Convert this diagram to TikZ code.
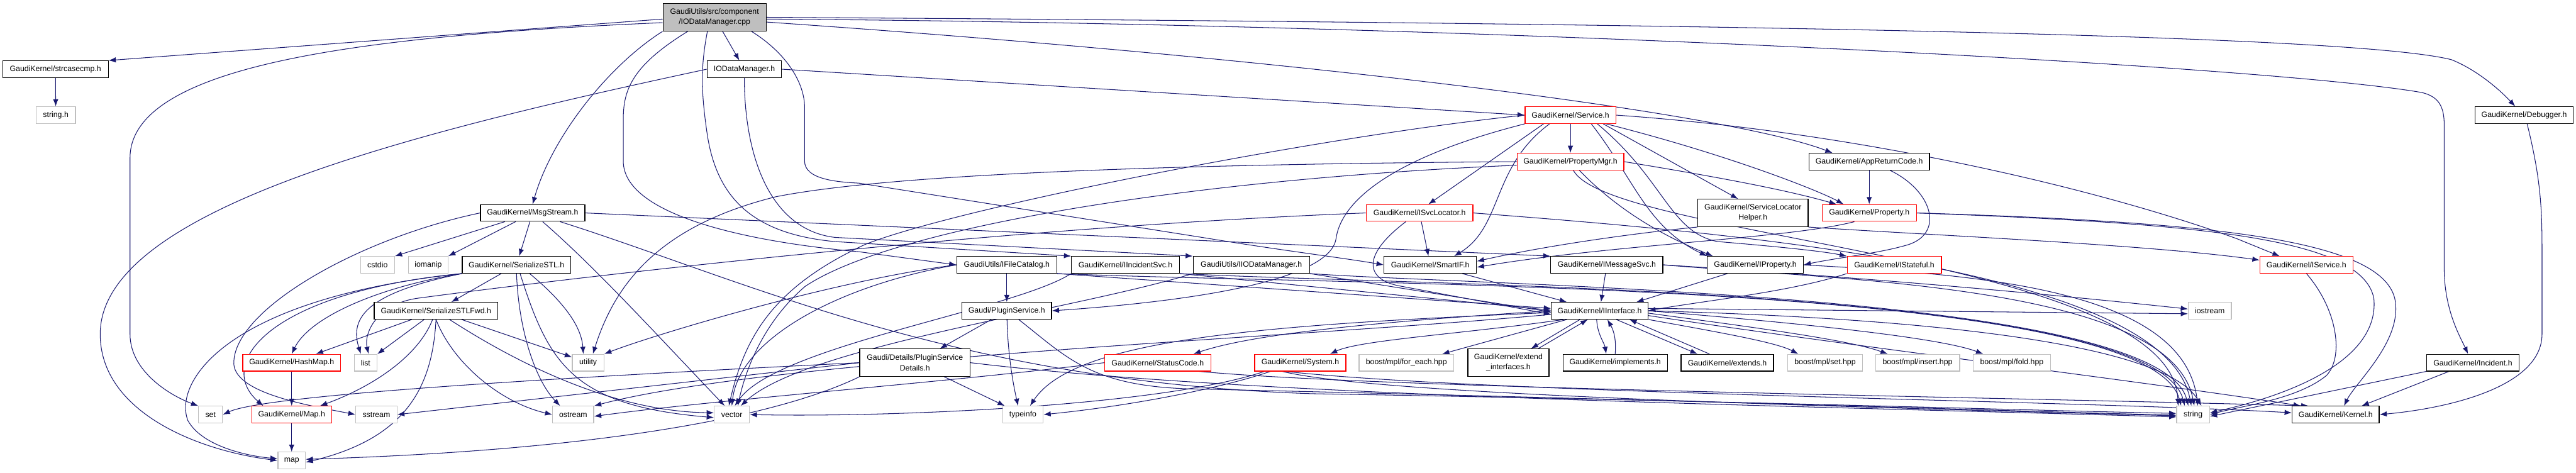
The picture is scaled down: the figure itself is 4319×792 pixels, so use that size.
\documentclass[tikz,border=0pt]{standalone}
\usepackage{fontspec}
\setmainfont{Liberation Sans}
\usetikzlibrary{arrows.meta}
\definecolor{edgec}{HTML}{191970}
\definecolor{extc}{HTML}{BFBFBF}
\definecolor{rootc}{HTML}{BFBFBF}
\newcommand{\nfs}{\fontsize{13}{17}\selectfont}
\pgfdeclarelayer{bgfill}
\pgfdeclarelayer{edges}
\pgfsetlayers{bgfill,edges,main}
\begin{document}
\begin{tikzpicture}[x=1pt,y=-1pt,
 nb/.style={draw=black, fill=white, line width=1.3pt, minimum height=28pt, inner sep=0pt, font=\nfs, align=center},
 nr/.style={nb, draw=red},
 ng/.style={nb, draw=extc},
 nroot/.style={nb, fill=rootc},
 tall/.style={minimum height=46pt},
 e/.style={draw=edgec, line width=1.1pt, -{Latex[length=12pt,width=9pt]}}
]
\useasboundingbox (0,0) rectangle (4319,792);
\begin{pgfonlayer}{bgfill}
\fill[white] (0,0) rectangle (4319,792);
\end{pgfonlayer}

% ---------------- nodes
\node[nroot, tall, minimum width=173pt] (root) at (1198,29) {GaudiUtils/src/component\\/IODataManager.cpp};
\node[nb, minimum width=177pt] (strc) at (93,116) {GaudiKernel/strcasecmp.h};
\node[ng, minimum width=66pt] (stringh) at (93.5,193) {string.h};
\node[nb, minimum width=125pt] (iodmh) at (1248,116) {IODataManager.h};
\node[nb, minimum width=175pt] (msgs) at (893,357) {GaudiKernel/MsgStream.h};
\node[nr, minimum width=152pt] (svc) at (2633,193) {GaudiKernel/Service.h};
\node[nb, minimum width=165pt] (dbg) at (4232,193) {GaudiKernel/Debugger.h};
\node[nr, minimum width=179pt] (pmgr) at (2633,271) {GaudiKernel/PropertyMgr.h};
\node[nb, minimum width=202pt] (arc) at (3134,271) {GaudiKernel/AppReturnCode.h};
\node[nr, minimum width=179pt] (isvcl) at (2380,357) {GaudiKernel/ISvcLocator.h};
\node[nb, tall, minimum width=185pt] (slh) at (2939,357) {GaudiKernel/ServiceLocator\\Helper.h};
\node[nr, minimum width=158pt] (prop) at (3134,357) {GaudiKernel/Property.h};
\node[ng, minimum width=57pt] (cstdio) at (633,444) {cstdio};
\node[ng, minimum width=66pt] (iomanip) at (718,444) {iomanip};
\node[nb, minimum width=182pt] (sstl) at (866,444) {GaudiKernel/SerializeSTL.h};
\node[nb, minimum width=168pt] (ifc) at (1688,444) {GaudiUtils/IFileCatalog.h};
\node[nb, minimum width=181pt] (iinc) at (1887,444) {GaudiKernel/IIncidentSvc.h};
\node[nb, minimum width=195pt] (iiodm) at (2098,444) {GaudiUtils/IIODataManager.h};
\node[nb, minimum width=155pt] (smartif) at (2398,444) {GaudiKernel/SmartIF.h};
\node[nb, minimum width=188pt] (imsg) at (2694,444) {GaudiKernel/IMessageSvc.h};
\node[nb, minimum width=161pt] (iprop) at (2943,444) {GaudiKernel/IProperty.h};
\node[nr, minimum width=158pt] (istate) at (3176,444) {GaudiKernel/IStateful.h};
\node[nr, minimum width=156pt] (isvc) at (3867,444) {GaudiKernel/IService.h};
\node[nb, minimum width=207pt] (sfwd) at (731,521) {GaudiKernel/SerializeSTLFwd.h};
\node[nb, minimum width=150pt] (plug) at (1688,521) {Gaudi/PluginService.h};
\node[nb, minimum width=162pt] (iint) at (2682,521) {GaudiKernel/IInterface.h};
\node[ng, minimum width=72pt] (iostream) at (3705,521) {iostream};
\node[nr, minimum width=164pt] (hmap) at (489,608) {GaudiKernel/HashMap.h};
\node[ng, minimum width=38pt] (list) at (613,608) {list};
\node[ng, minimum width=53pt] (utility) at (986,608) {utility};
\node[nb, tall, minimum width=185pt] (plugd) at (1534,608) {Gaudi/Details/PluginService\\Details.h};
\node[nr, minimum width=178pt] (stc) at (1941,608) {GaudiKernel/StatusCode.h};
\node[nr, minimum width=153pt] (sys) at (2180,608) {GaudiKernel/System.h};
\node[ng, minimum width=159pt] (foreach) at (2358,608) {boost/mpl/for\_each.hpp};
\node[nb, tall, minimum width=136pt] (extif) at (2529,608) {GaudiKernel/extend\\\_interfaces.h};
\node[nb, minimum width=175pt] (impl) at (2708,608) {GaudiKernel/implements.h};
\node[nb, minimum width=155pt] (extends) at (2896,608) {GaudiKernel/extends.h};
\node[ng, minimum width=126pt] (mplset) at (3060,608) {boost/mpl/set.hpp};
\node[ng, minimum width=141pt] (mplins) at (3215,608) {boost/mpl/insert.hpp};
\node[ng, minimum width=130pt] (mplfold) at (3373,608) {boost/mpl/fold.hpp};
\node[nb, minimum width=155pt] (incident) at (4146,608) {GaudiKernel/Incident.h};
\node[ng, minimum width=40pt] (setx) at (353,695) {set};
\node[nr, minimum width=134pt] (maph) at (489,695) {GaudiKernel/Map.h};
\node[ng, minimum width=69pt] (sstream) at (631,695) {sstream};
\node[ng, minimum width=69pt] (ostream) at (961,695) {ostream};
\node[ng, minimum width=59pt] (vector) at (1227,695) {vector};
\node[ng, minimum width=68pt] (typeinfo) at (1715,695) {typeinfo};
\node[ng, minimum width=55pt] (string) at (3677,695) {string};
\node[nb, minimum width=146pt] (kernel) at (3916,695) {GaudiKernel/Kernel.h};
\node[ng, minimum width=46pt] (map) at (489,772) {map};

% ---------------- edges
\begin{pgfonlayer}{edges}
% root
\draw[e] ([yshift=-3pt]root.west) -- (strc.north east);
\draw[e] ([yshift=-9pt]root.west) .. controls (600,60) and (218,110) .. (218,265) -- (218,560) .. controls (218,625) and (290,665) .. (setx.north west);
\draw[e] (root) -- (iodmh);
\draw[e] (root.south west) .. controls (1020,110) and (925,230) .. (msgs.north);
\draw[e] ([xshift=-45pt]root.south) .. controls (1060,110) and (1045,150) .. (1045,200) -- (1045,270) .. controls (1045,360) and (1250,405) .. (1440,422) -- (ifc.west);
\draw[e] ([xshift=-12pt]root.south) .. controls (1175,110) and (1175,150) .. (1185,220) .. controls (1200,330) and (1260,392) .. (1400,405) -- (iinc.north west);
\draw[e] ([xshift=62pt]root.south) .. controls (1320,90) and (1349,140) .. (1349,180) -- (1349,270) .. controls (1349,300) and (1400,305) .. (1440,307) -- (2028,400) .. controls (2150,420) and (2250,432) .. (smartif.west);
\draw[e] ([yshift=-8pt]root.east) .. controls (2200,100) and (2900,190) .. ([xshift=40pt]arc.north west);
\draw[e] (root.east) .. controls (3000,40) and (3950,60) .. (4110,100) .. controls (4160,120) and (4200,160) .. ([xshift=-15pt]dbg.north);
\draw[e] ([yshift=-3pt]root.east) .. controls (2500,40) and (3800,110) .. (4060,155) .. controls (4090,162) and (4098,180) .. (4098,210) -- (4098,450) .. controls (4098,520) and (4125,565) .. ([xshift=-8pt]incident.north);
% IODataManager.h
\draw[e] (iodmh.east) -- (svc.west);
\draw[e] (iodmh.west) .. controls (700,220) and (168,350) .. (168,560) .. controls (168,690) and (330,755) .. (map.west);
\draw[e] (iodmh.south) .. controls (1248,260) and (1290,385) .. (1400,398) -- (iiodm.north west);
% MsgStream.h
\draw[e] (msgs) -- (cstdio.north east);
\draw[e] (msgs) -- (iomanip.north east);
\draw[e] (msgs) -- (sstl);
\draw[e] (msgs) .. controls (1000,450) and (1100,560) .. ([xshift=-12pt]vector.north);
\draw[e] (msgs.west) .. controls (600,400) and (390,520) .. (392,610) .. controls (395,660) and (520,680) .. (sstream.west);
\draw[e] (msgs) .. controls (1250,470) and (1600,640) .. (2200,660) .. controls (2900,672) and (3400,688) .. ([yshift=2pt]string.west);
\draw[e] (msgs.east) -- (imsg.north west);
% SerializeSTL.h
\draw[e] (sstl) -- (sfwd);
\draw[e] (sstl.south west) .. controls (640,480) and (520,530) .. (hmap.north);
\draw[e] (sstl.south west) .. controls (620,490) and (585,530) .. ([xshift=-8pt]list.north);
\draw[e] (sstl.south west) .. controls (450,490) and (360,610) .. ([xshift=20pt]maph.north west);
\draw[e] (sstl.south west) .. controls (380,500) and (290,640) .. (315,705) .. controls (340,750) and (420,765) .. ([yshift=3pt]map.west);
\draw[e] (sstl.south) .. controls (870,560) and (900,640) .. ([xshift=-22pt]ostream.north);
\draw[e] ([xshift=6pt]sstl.south) .. controls (920,610) and (960,680) .. ([yshift=-5pt]vector.west);
\draw[e] ([xshift=22pt]sstl.south) .. controls (950,510) and (975,550) .. ([xshift=-8pt]utility.north);
% SerializeSTLFwd.h
\draw[e] (sfwd) -- (hmap);
\draw[e] (sfwd) -- (list);
\draw[e] (sfwd) .. controls (700,600) and (620,650) .. ([xshift=-20pt]maph.north east);
\draw[e] (sfwd.south) .. controls (725,650) and (680,735) .. ([yshift=-3pt]map.east);
\draw[e] (sfwd.south) .. controls (760,610) and (840,675) .. (ostream.west);
\draw[e] (sfwd) .. controls (900,630) and (1050,690) .. ([yshift=3pt]vector.west);
\draw[e] (sfwd) -- (utility);
\draw[e] (hmap) -- (maph);
\draw[e] (maph) -- (map);
% PluginServiceDetails.h
\draw[e] (plugd.west) .. controls (1000,630) and (450,660) .. (setx.east);
\draw[e] (plugd.west) -- (sstream.east);
\draw[e] (plugd.south west) .. controls (1300,700) and (1000,755) .. ([yshift=2pt]map.east);
\draw[e] (plugd) -- (typeinfo);
\draw[e] (plugd.east) .. controls (2100,665) and (3000,680) .. ([yshift=-4pt]string.west);
% PluginService.h
\draw[e] (plug) -- (plugd);
\draw[e] (plug) .. controls (1690,600) and (1700,650) .. ([xshift=-8pt]typeinfo.north);
\draw[e] ([xshift=20pt]plug.south) .. controls (1790,600) and (1830,648) .. (2000,652) .. controls (2800,670) and (3400,690) .. ([yshift=-1pt]string.west);
% IFileCatalog.h
\draw[e] (ifc) -- (plug);
\draw[e] (ifc.west) .. controls (1400,470) and (1100,560) .. (utility.north east);
\draw[e] (ifc.west) .. controls (1400,480) and (1240,570) .. (vector.north);
\draw[e] (ifc.south east) -- ([yshift=4pt]iint.west);
\draw[e] (ifc.south east) .. controls (2300,480) and (3600,470) .. ([xshift=-20pt]string.north);
% IIncidentSvc.h
\draw[e] (iinc.south east) -- ([yshift=1pt]iint.west);
\draw[e] (iinc.south west) .. controls (1700,520) and (1300,580) .. ([xshift=5pt]vector.north);
\draw[e] (iinc.south east) .. controls (2400,480) and (3610,480) .. ([xshift=-14pt]string.north);
% IIODataManager.h
\draw[e] (iiodm.south east) -- ([yshift=-2pt]iint.west);
\draw[e] (iiodm.south west) .. controls (1800,520) and (1350,580) .. ([xshift=15pt]vector.north);
\draw[e] (iiodm.south east) .. controls (2500,480) and (3620,490) .. ([xshift=-8pt]string.north);
% SmartIF, IMessageSvc, IProperty, IStateful
\draw[e] (smartif) -- ([xshift=-55pt]iint.north);
\draw[e] (imsg) -- (iint);
\draw[e] (imsg.east) .. controls (3200,470) and (3500,500) .. ([yshift=3pt]iostream.west);
\draw[e] (imsg.east) .. controls (3100,470) and (3640,480) .. ([xshift=2pt]string.north);
\draw[e] (iprop) -- ([xshift=-20pt]iint.north east);
\draw[e] (iprop.east) .. controls (3300,460) and (3660,480) .. ([xshift=8pt]string.north);
\draw[e] (istate.south west) .. controls (3000,490) and (2850,505) .. (iint.east);
% ISvcLocator.h
\draw[e] (isvcl.west) .. controls (1700,380) and (1000,460) .. (700,500) .. controls (630,510) and (610,560) .. ([xshift=5pt]list.north);
\draw[e] (isvcl) -- (smartif);
\draw[e] ([xshift=-23pt]isvcl.south) .. controls (2280,430) and (2290,470) .. (2350,480) -- ([yshift=-6pt]iint.west);
\draw[e] (isvcl.east) .. controls (2900,390) and (3630,450) .. ([xshift=-3pt]string.north);
% Service.h
\draw[e] (svc) -- (pmgr);
\draw[e] ([xshift=-45pt]svc.south) -- ([xshift=15pt]isvcl.north);
\draw[e] ([xshift=-35pt]svc.south) .. controls (2500,280) and (2520,380) .. ([xshift=40pt]smartif.north);
\draw[e] (svc.south west) .. controls (2350,260) and (2250,330) .. (2240,400) .. controls (2230,470) and (2000,505) .. (plug.east);
\draw[e] (svc.west) .. controls (2200,230) and (1600,350) .. (1450,410) .. controls (1300,480) and (1250,560) .. ([xshift=-5pt]vector.north);
\draw[e] ([xshift=35pt]svc.south) .. controls (2740,300) and (2760,380) .. (iprop.north west);
\draw[e] ([xshift=45pt]svc.south) .. controls (2790,300) and (2800,390) .. (2880,405) .. controls (3000,415) and (3060,422) .. (istate.north west);
\draw[e] ([xshift=55pt]svc.south) -- ([xshift=-25pt]slh.north);
\draw[e] ([xshift=60pt]svc.south) .. controls (2900,260) and (3050,320) .. ([xshift=-43pt]prop.north);
\draw[e] (svc.east) .. controls (3100,220) and (3500,310) .. (3750,400) -- ([xshift=-45pt]isvc.north);
% PropertyMgr.h
\draw[e] (pmgr.east) .. controls (2900,300) and (3000,320) .. ([xshift=-55pt]prop.north);
\draw[e] ([xshift=15pt]pmgr.south) .. controls (2720,360) and (2800,400) .. ([xshift=10pt]iprop.north west);
\draw[e] (pmgr.west) .. controls (2000,275) and (1500,290) .. (1300,330) .. controls (1100,380) and (1030,480) .. ([xshift=8pt]utility.north);
\draw[e] ([yshift=-6pt]pmgr.west) .. controls (2000,300) and (1500,380) .. (1350,480) .. controls (1280,540) and (1250,620) .. ([xshift=10pt]vector.north);
\draw[e] ([xshift=5pt]pmgr.south) .. controls (2700,400) and (3640,430) .. ([xshift=-25pt]string.north);
% AppReturnCode.h
\draw[e] (arc) -- (prop);
\draw[e] ([xshift=35pt]arc.south) .. controls (3240,320) and (3260,390) .. (3200,410) .. controls (3150,425) and (3080,432) .. (iprop.east);
% ServiceLocatorHelper.h
\draw[e] (slh.south west) .. controls (2750,390) and (2600,410) .. ([yshift=6pt]smartif.east);
\draw[e] (slh.south east) .. controls (3250,395) and (3600,410) .. ([yshift=8pt]isvc.west);
% Property.h
\draw[e] ([xshift=-25pt]prop.south) .. controls (3000,400) and (2700,410) .. ([yshift=-4pt]smartif.east);
\draw[e] (prop.east) .. controls (3700,375) and (3960,400) .. (3980,500) .. controls (3990,600) and (3850,660) .. ([yshift=3pt]string.east);
\draw[e] (prop.east) .. controls (3700,372) and (3990,400) .. (4015,500) .. controls (4030,570) and (3950,640) .. ([xshift=14pt]kernel.north);
% IService, Incident, Debugger
\draw[e] (isvc.south) .. controls (3920,520) and (3930,600) .. (3900,630) .. controls (3850,670) and (3760,680) .. (string.east);
\draw[e] (incident.south west) -- ([yshift=-3pt]string.east);
\draw[e] ([xshift=-40pt]incident.south) -- ([xshift=-30pt]kernel.north east);
\draw[e] ([xshift=5pt]dbg.south) .. controls (4260,300) and (4262,350) .. (4262,420) -- (4262,560) .. controls (4262,650) and (4100,685) .. (kernel.east);
% IInterface.h
\draw[e] ([xshift=-55pt]iint.south) -- ([xshift=60pt]foreach.north);
\draw[e] ([xshift=-33pt]iint.south) -- ([xshift=38pt]extif.north);
\draw[e] ([xshift=50pt]extif.north) -- ([xshift=-20pt]iint.south);
\draw[e] ([xshift=-5pt]iint.south) .. controls (2678,560) and (2690,575) .. ([xshift=-15pt]impl.north);
\draw[e] (impl.north) .. controls (2710,570) and (2706,555) .. ([xshift=13pt]iint.south);
\draw[e] ([xshift=28pt]iint.south) -- ([xshift=-50pt]extends.north);
\draw[e] ([xshift=-30pt]extends.north) -- ([xshift=50pt]iint.south);
\draw[e] (iint.south east) .. controls (2900,560) and (2980,575) .. ([xshift=-45pt]mplset.north);
\draw[e] ([yshift=-4pt]iint.east) .. controls (2950,550) and (3100,570) .. ([xshift=-50pt]mplins.north);
\draw[e] (iint.east) .. controls (3000,540) and (3250,565) .. ([xshift=-48pt]mplfold.north);
\draw[e] ([xshift=-60pt]iint.south) .. controls (2450,560) and (2280,570) .. ([xshift=50pt]sys.north);
\draw[e] (iint.west) .. controls (2300,540) and (2100,560) .. ([xshift=60pt]stc.north);
\draw[e] ([yshift=-3pt]iint.west) .. controls (2100,545) and (1800,570) .. ([xshift=12pt]typeinfo.north);
\draw[e] ([yshift=-6pt]iint.west) .. controls (2200,565) and (1300,600) .. (ostream.north east);
\draw[e] ([yshift=4pt]iint.east) -- ([yshift=-5pt]iostream.west);
\draw[e] (iint.east) .. controls (3100,530) and (3620,560) .. ([xshift=14pt]string.north);
\draw[e] ([yshift=-8pt]iint.east) .. controls (3100,580) and (3600,640) .. ([xshift=15pt]kernel.north west);
% System.h, StatusCode.h
\draw[e] ([xshift=-50pt]sys.south) .. controls (2050,650) and (1900,680) .. (typeinfo.east);
\draw[e] ([xshift=-60pt]sys.south) .. controls (1950,680) and (1500,700) .. (vector.east);
\draw[e] ([xshift=-30pt]sys.south) .. controls (2300,660) and (3000,680) .. ([yshift=-2pt]string.west);
\draw[e] ([xshift=-25pt]sys.south) .. controls (2500,660) and (3500,672) .. ([yshift=3pt]kernel.west);
\draw[e] (stc.west) .. controls (1600,640) and (1200,670) .. ([yshift=-3pt]ostream.east);
\draw[e] ([xshift=70pt]stc.south) .. controls (2300,650) and (3300,665) .. ([xshift=28pt]kernel.north west);
% strcasecmp
\draw[e] (strc) -- (stringh);
\end{pgfonlayer}
\end{tikzpicture}
\end{document}
